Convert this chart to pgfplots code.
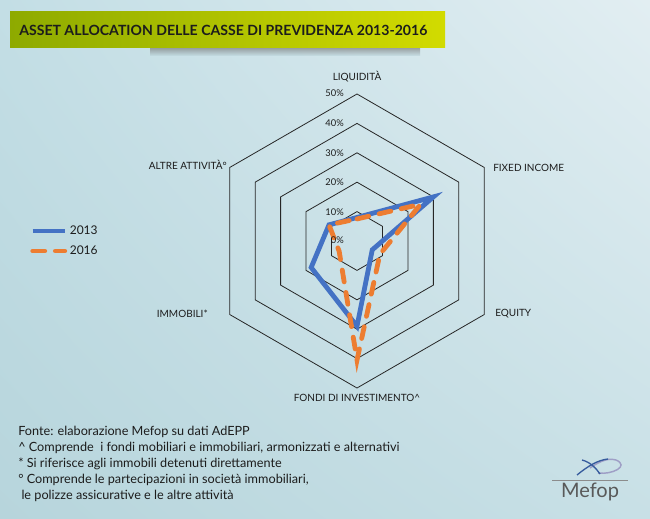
\documentclass[border=0pt]{standalone}
\usepackage{pgfplots}
\pgfplotsset{compat=1.18}
\usepgfplotslibrary{polar}
\usetikzlibrary{shadings}
\usepackage{fontspec}
\setmainfont{Lato}
\definecolor{c13}{HTML}{4472C4}
\definecolor{c16}{HTML}{ED7D31}
\definecolor{txt}{HTML}{1C1C1C}
\definecolor{bgA}{HTML}{C3DEE5}
\definecolor{bgB}{HTML}{E2EEF2}
\definecolor{bgC}{HTML}{B7D5DC}
\definecolor{bgD}{HTML}{C8E0E6}
\definecolor{banL}{HTML}{8EAA00}
\definecolor{banR}{HTML}{D2DB00}

% angles: 90 LIQUIDITA, 30 FIXED INCOME, 330 EQUITY, 270 FONDI, 210 IMMOBILI, 150 ALTRE
\pgfplotstableread{
ang y2013 y2016
90  8   7.5
30  30  25
330 6   9
270 29  40.5
210 18  7
150 11  11
}\radar

\begin{document}
\begin{tikzpicture}[x=0.75pt,y=0.75pt]
% background (1px = 0.75pt, y measured from bottom)
\shade[upper left=bgA, upper right=bgB, lower left=bgC, lower right=bgD] (0,0) rectangle (650,518);

% title banner
\shade[top color=black!55, bottom color=bgA, opacity=0.6] (150,462) rectangle (420,470);
\shade[left color=banL, right color=banR] (10,470) rectangle (445,506);
\node[anchor=west, text=txt, inner sep=0pt] at (19,488)
  {\resizebox{306pt}{!}{\bfseries ASSET ALLOCATION DELLE CASSE DI PREVIDENZA 2013-2016}};

\coordinate (C) at (357,277);
\begin{polaraxis}[
    at={(C)}, anchor=center,
    scale only axis, width=220.5pt, height=220.5pt,
    ymin=0, ymax=50,
    xtick=\empty, ytick=\empty,
    axis line style={draw=none},
    clip=false,
    legend style={at={(-0.612,0.5)}, anchor=west, draw=none, fill=none,
        inner sep=0pt, row sep=3pt, font=\fontsize{9}{10}\selectfont,
        text=txt},
    legend cell align=left,
    legend image code/.code={\draw[#1] (0pt,0pt) -- (24pt,0pt);},
]
\pgfplotsinvokeforeach{10,20,30,40,50}{
  \addplot[black!85, line width=0.6pt, forget plot]
    coordinates {(90,#1) (30,#1) (330,#1) (270,#1) (210,#1) (150,#1)} -- cycle;
}
\addplot[c13, line width=3.6pt] table[x=ang, y=y2013] {\radar} -- cycle;
\addplot[c16, line width=3.6pt, line cap=round, dash pattern=on 9pt off 8pt]
  table[x=ang, y=y2016] {\radar} -- cycle;
\legend{2013,2016}
\end{polaraxis}

% category labels
\begin{scope}[every node/.style={text=txt, inner sep=0pt, font=\fontsize{7.5}{9}\selectfont}]
\node at (357,441) {LIQUIDITÀ};
\node[anchor=west] at (493,350) {FIXED INCOME};
\node[anchor=west] at (495,204) {EQUITY};
\node at (357,120) {FONDI DI INVESTIMENTO\textasciicircum};
\node[anchor=east] at (208,204) {IMMOBILI*};
\node[anchor=east] at (227,353) {ALTRE ATTIVITÀ°};
\end{scope}
% radial labels
\begin{scope}[every node/.style={text=txt, inner sep=0pt, anchor=east, font=\fontsize{7}{8}\selectfont}]
\node at (344,425) {50\%};
\node at (344,395) {40\%};
\node at (344,365) {30\%};
\node at (344,336) {20\%};
\node at (344,306) {10\%};
\node at (344,278) {0\%};
\end{scope}

% notes
\node[anchor=north west, align=left, text=txt, inner sep=0pt,
      font=\fontsize{9.5}{12}\selectfont] at (18,92) {%
Fonte: elaborazione Mefop su dati AdEPP\\
\textasciicircum{} Comprende\ \ i fondi mobiliari e immobiliari, armonizzati e alternativi\\
* Si riferisce agli immobili detenuti direttamente\\
° Comprende le partecipazioni in società immobiliari,\\
\ le polizze assicurative e le altre attività};

% logo
\draw[black!45, line width=0.6pt] (552,38) -- (628,38);
\node[text=black!65, inner sep=0pt, font=\fontsize{15}{15}\selectfont] at (590,26) {Mefop};
\draw[blue!25!gray!60, line width=1.1pt] (598,45) .. controls (612,43) and (630,52) .. (616,58)
  .. controls (606,61) and (596,54) .. (590,50);
\draw[c13!80!black, line width=1pt] (577,43) .. controls (588,52) and (598,58) .. (608,59);
\draw[c13!80!black, line width=1pt] (582,58) .. controls (590,56) and (596,50) .. (600,44);
\end{tikzpicture}
\end{document}
